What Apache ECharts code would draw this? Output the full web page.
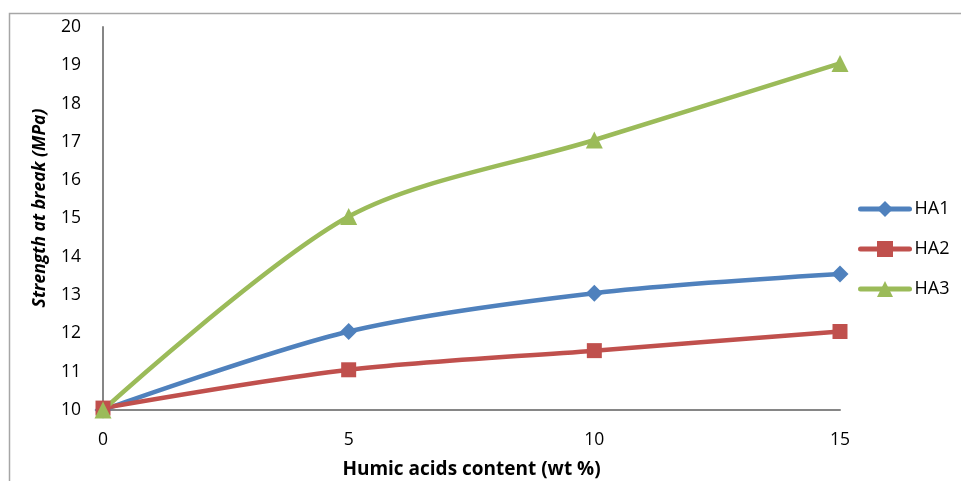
<!DOCTYPE html>
<html><head><meta charset="utf-8">
<script src="https://cdn.jsdelivr.net/npm/echarts@6/dist/echarts.min.js"></script>
<style>html,body{margin:0;padding:0;background:#fff}#c{width:961px;height:481px}</style>
</head><body><div id="c"></div>
<script>
const xValues = [0, 5, 10, 15];
const ha1 = [10.0, 12.05, 13.05, 13.55];
const ha2 = [10.05, 11.05, 11.55, 12.05];
const ha3 = [10.0, 15.05, 17.05, 19.05];
const seriesNames = ['HA1', 'HA2', 'HA3'];
const xTicks = [0, 5, 10, 15];
const yTicks = [10, 11, 12, 13, 14, 15, 16, 17, 18, 19, 20];
const xTitle = 'Humic acids content (wt %)';
const yTitle = 'Strength at break (MPa)';

const font = '"Open Sans", Lato, sans-serif';
const chart = echarts.init(document.getElementById('c'));
function mk(name, data, color, symbol, size) {
  return {
    name, type: 'line', smooth: 0.3,
    data: xValues.map((x, i) => [x, data[i]]),
    symbol, symbolSize: size,
    lineStyle: { color, width: 4.5, cap: 'round' },
    itemStyle: { color },
    emphasis: { disabled: true }
  };
}
chart.setOption({
  animation: false,
  graphic: [{
    type: 'rect', shape: { x: 9.5, y: 13.5, width: 1000, height: 1000 },
    style: { fill: 'none', stroke: '#a6a6a6', lineWidth: 1.5 }, silent: true
  }, {
    type: 'text', x: 40, y: 208, rotation: Math.PI / 2,
    style: { text: yTitle, fontFamily: font, fontSize: 17.5, fontWeight: 'bold', fontStyle: 'italic',
      fill: '#000', align: 'center', verticalAlign: 'middle' }, silent: true
  }],
  grid: { left: 103, right: 121, top: 27, bottom: 71, outerBoundsMode: 'none', containLabel: false },
  xAxis: {
    type: 'value', min: 0, max: 15, interval: 5,
    name: xTitle, nameLocation: 'middle', nameGap: 50,
    nameTextStyle: { fontFamily: font, fontSize: 19, fontWeight: 'bold', color: '#000' },
    axisLine: { lineStyle: { color: '#868686', width: 2 } },
    axisTick: { show: false },
    splitLine: { show: false },
    axisLabel: { fontFamily: font, fontSize: 17.5, color: '#000', margin: 21,
      formatter: v => xTicks.includes(v) ? String(v) : '' }
  },
  yAxis: {
    type: 'value', min: 10, max: 20, interval: 1,
    axisLine: { show: true, lineStyle: { color: '#868686', width: 2 } },
    axisTick: { show: false },
    splitLine: { show: false },
    axisLabel: { fontFamily: font, fontSize: 17.5, color: '#000', margin: 22,
      formatter: v => yTicks.includes(v) ? String(v) : '' }
  },
  legend: {
    orient: 'vertical', left: 853, top: 195, itemGap: 22,
    itemWidth: 49, itemHeight: 20,
    lineStyle: { width: 5, cap: 'round' },
    textStyle: { fontFamily: font, fontSize: 18, color: '#000' },
    data: seriesNames
  },
  series: [
    mk(seriesNames[0], ha1, '#4F81BD', 'diamond', 17),
    mk(seriesNames[1], ha2, '#C0504D', 'rect', 15),
    mk(seriesNames[2], ha3, '#9BBB59', 'triangle', 17)
  ]
});
</script></body></html>
